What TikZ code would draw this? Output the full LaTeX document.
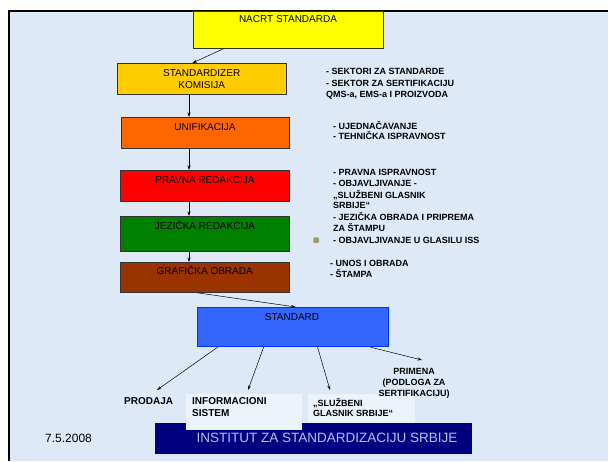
\documentclass[tikz,border=0pt]{standalone}
\usepackage{fontspec}
\setmainfont{Liberation Sans}
\usetikzlibrary{arrows.meta}
\definecolor{bgblue}{RGB}{221,233,247}
\definecolor{patchwhite}{RGB}{236,243,251}
\definecolor{boxedge}{RGB}{51,51,51}
\definecolor{cyellow}{RGB}{255,255,0}
\definecolor{cgold}{RGB}{255,204,0}
\definecolor{corange}{RGB}{255,102,0}
\definecolor{cred}{RGB}{255,0,0}
\definecolor{cgreen}{RGB}{0,128,0}
\definecolor{cbrown}{RGB}{153,51,0}
\definecolor{cblue}{RGB}{51,102,255}
\definecolor{cblueedge}{RGB}{0,51,255}
\definecolor{cnavy}{RGB}{0,0,128}
\definecolor{cbannertext}{RGB}{176,196,232}
\definecolor{colive}{RGB}{160,152,104}
\tikzset{
  box/.style={draw=boxedge, line width=0.8pt, inner sep=0pt, anchor=north west},
  boxlbl/.style={font=\fontsize{10}{12}\selectfont, text=black, inner sep=0pt, anchor=base},
  note/.style={font=\bfseries\fontsize{9}{11}\selectfont, inner sep=0pt, anchor=base west},
  outlbl/.style={font=\bfseries\fontsize{10}{12}\selectfont, inner sep=0pt, anchor=base west},
  outlblsmall/.style={font=\bfseries\fontsize{9}{11}\selectfont, inner sep=0pt},
  arr/.style={-{Stealth[length=4.5pt,width=3pt]}, line width=0.5pt, draw=black},
}
\begin{document}
\begin{tikzpicture}[x=1pt,y=-1pt]
\useasboundingbox (0,0) rectangle (608,461);
% background
\fill[white] (0,0) rectangle (608,461);
\fill[bgblue] (9,11) rectangle (608,461);
\draw[line width=2pt] (9,461) -- (9,11) -- (608,11);

% main boxes
\node[box, fill=cyellow, minimum width=190pt, minimum height=37pt] (nacrt) at (193,11) {};
\node[box, fill=cgold, minimum width=169pt, minimum height=31pt] (komisija) at (117,63) {};
\node[box, fill=corange, minimum width=168pt, minimum height=31pt] (unif) at (121,117) {};
\node[box, fill=cred, minimum width=169pt, minimum height=31pt] (pravna) at (120,170) {};
\node[box, fill=cgreen, minimum width=169pt, minimum height=35pt] (jezicka) at (120,216) {};
\node[box, fill=cbrown, minimum width=169pt, minimum height=30pt] (graf) at (120,262) {};
\node[box, draw=cblueedge, line width=1.2pt, fill=cblue, minimum width=191pt, minimum height=39pt] (standard) at (197,307) {};

% box labels
\node[boxlbl] (tnacrt) at (288,22.6) {NACRT STANDARDA};
\node[boxlbl] (tkom1) at (201.7,76.9) {STANDARDIZER};
\node[boxlbl] (tkom2) at (201.7,88.4) {KOMISIJA};
\node[boxlbl] (tunif) at (205,130.3) {UNIFIKACIJA};
\node[boxlbl] (tpravna) at (205,183.6) {PRAVNA REDAKCIJA};
\node[boxlbl] (tjez) at (205,229.6) {JEZIČKA REDAKCIJA};
\node[boxlbl] (tgraf) at (204.7,274.6) {GRAFIČKA OBRADA};
\node[boxlbl] (tstd) at (292,320.9) {STANDARD};

% connectors of the chain
\coordinate (spine) at (189,0);
\draw[arr] ([xshift=-65pt]nacrt.south) -- ([xshift=-9.5pt]komisija.north);
\draw[arr] (komisija.south -| spine) -- (unif.north -| spine);
\draw[arr] (unif.south -| spine) -- (pravna.north -| spine);
\draw[arr] (pravna.south -| spine) -- (jezicka.north -| spine);
\draw[arr] (jezicka.south -| spine) -- (graf.north -| spine);
\draw[arr] ([xshift=-7.5pt]graf.south) -- ([xshift=2.5pt]standard.north);

% notes on the right
\node[note] (n1) at (326,74.2) {- SEKTORI ZA STANDARDE};
\node[note] (n2) at (326,86) {- SEKTOR ZA SERTIFIKACIJU};
\node[note] (n3) at (326,97.2) {QMS-a, EMS-a I PROIZVODA};
\node[note] (n4) at (333,129.2) {- UJEDNAČAVANJE};
\node[note] (n5) at (333,139.2) {- TEHNIČKA ISPRAVNOST};
\node[note] (n6) at (333,175.2) {- PRAVNA ISPRAVNOST};
\node[note] (n7) at (333,186.2) {- OBJAVLJIVANJE -};
\node[note] (n8) at (333,198.2) {„SLUŽBENI GLASNIK};
\begin{scope}
\clip (320,200) rectangle (520,207.5);
\node[note] (n9) at (333,208.7) {SRBIJE“};
\end{scope}
\node[note] (n10) at (333,220.2) {- JEZIČKA OBRADA I PRIPREMA};
\node[note] (n11) at (333,231.2) {ZA ŠTAMPU};
\node[note] (n12) at (333,243.2) {- OBJAVLJIVANJE U GLASILU ISS};
\node[note] (n13) at (330,266.2) {- UNOS I OBRADA};
\node[note] (n14) at (330,277.2) {- ŠTAMPA};
\node[fill=colive, rounded corners=1pt, inner sep=0pt, minimum width=5.5pt, minimum height=5.5pt] (bullet) at (316,240) {};

% label patches and banner
\node[fill=cnavy, inner sep=0pt, anchor=north west, minimum width=317pt, minimum height=31pt] (banner) at (155,423) {};
\node[fill=patchwhite, inner sep=0pt, anchor=north west, minimum width=116pt, minimum height=36pt] (patch1) at (186,394) {};
\node[fill=patchwhite, inner sep=0pt, anchor=north west, minimum width=107pt, minimum height=29pt] (patch2) at (308,394) {};
\node[font=\fontsize{13.5}{16}\selectfont, text=cbannertext, inner sep=0pt, anchor=base] (tbanner) at (327,442.8) {INSTITUT ZA STANDARDIZACIJU SRBIJE};
\node[font=\fontsize{12}{14}\selectfont, inner sep=0pt, anchor=base west] (date) at (45,442.3) {7.5.2008};

% outputs
\node[outlbl] (prodaja) at (124,404.6) {PRODAJA};
\node[outlbl] (info1) at (192,404.6) {INFORMACIONI};
\node[outlbl] (info2) at (192,416.6) {SISTEM};
\node[outlblsmall, anchor=base west] (sg1) at (313,406.2) {„SLUŽBENI};
\node[outlblsmall, anchor=base west] (sg2) at (313,416.4) {GLASNIK SRBIJE“};
\node[outlblsmall, anchor=base] (pr1) at (414,374.2) {PRIMENA};
\node[outlblsmall, anchor=base] (pr2) at (414,385.2) {(PODLOGA ZA};
\node[outlblsmall, anchor=base] (pr3) at (414,396.2) {SERTIFIKACIJU)};

\coordinate (e1) at (157,390);
\coordinate (e2) at (248,390);
\coordinate (e3) at (330,390);
\coordinate (e4) at (422,360);
\draw[arr] ([xshift=-75.5pt]standard.south) -- (e1);
\draw[arr] ([xshift=-29.5pt]standard.south) -- (e2);
\draw[arr] ([xshift=24.5pt]standard.south) -- (e3);
\draw[arr] ([xshift=77.5pt]standard.south) -- (e4);
\end{tikzpicture}
\end{document}
